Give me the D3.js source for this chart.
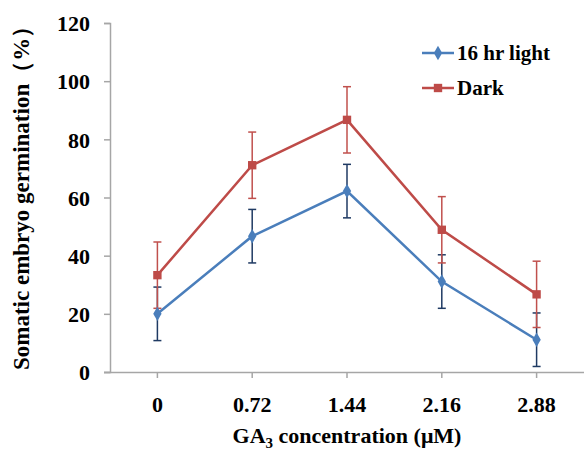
<!DOCTYPE html>
<html>
<head>
<meta charset="utf-8">
<script src="https://cdn.jsdelivr.net/npm/d3@7"></script>
<style>
  body { margin: 0; background: #fff; }
  svg { display: block; }
</style>
</head>
<body>
<svg id="chart" width="585" height="452"></svg>
<script>
var categories = ["0", "0.72", "1.44", "2.16", "2.88"];
var lightValues = [20, 46.7, 62.2, 31.1, 11.1];
var lightErrors = [9.2, 9.2, 9.2, 9.2, 9.2];
var darkValues = [33.3, 71.1, 86.7, 48.9, 26.7];
var darkErrors = [11.4, 11.4, 11.4, 11.4, 11.4];
var yTicks = [0, 20, 40, 60, 80, 100, 120];

var svg = d3.select("#chart");
var margin = {top: 23, right: 1, bottom: 80, left: 110};
var width = 585 - margin.left - margin.right;
var height = 452 - margin.top - margin.bottom;

var g = svg.append("g")
    .attr("transform", "translate(" + margin.left + "," + margin.top + ")");

var x = d3.scaleBand()
    .domain(categories)
    .range([0, width]);

var y = d3.scaleLinear()
    .domain([0, 120])
    .range([height, 0]);

var cx = function(c) { return x(c) + x.bandwidth() / 2; };

function styleText(sel, size) {
    sel.attr("font-family", null)
        .style("font-family", "'Liberation Serif'")
        .style("font-weight", "bold")
        .style("font-size", size + "px")
        .attr("fill", "#000");
}

// y axis
var yAxis = g.append("g")
    .call(d3.axisLeft(y).tickValues(yTicks).tickSize(6).tickPadding(14));
yAxis.attr("font-family", null);
yAxis.select(".domain").attr("stroke", "#a6a6a6").attr("stroke-width", 1.5);
yAxis.selectAll(".tick line").attr("stroke", "#a6a6a6").attr("stroke-width", 1.5);
yAxis.selectAll(".tick text").call(styleText, 22).attr("dy", "0.35em");

// x axis
var xAxis = g.append("g")
    .attr("transform", "translate(0," + height + ")")
    .call(d3.axisBottom(x).tickSize(6).tickSizeOuter(0).tickPadding(14));
xAxis.attr("font-family", null);
xAxis.select(".domain").attr("stroke", "#a6a6a6").attr("stroke-width", 1.5)
    .attr("d", "M-6,0.5H" + width);
xAxis.selectAll(".tick line").attr("stroke", "#a6a6a6").attr("stroke-width", 1.5);
xAxis.selectAll(".tick text").call(styleText, 22).attr("dy", "0.9em");

var series = [
    {name: "16 hr light", values: lightValues, errors: lightErrors, color: "#4a7ebb", errColor: "#1f3a63", marker: d3.symbolDiamond, size: 60},
    {name: "Dark", values: darkValues, errors: darkErrors, color: "#be4b48", errColor: "#c0504d", marker: d3.symbolSquare, size: 70}
];

var line = d3.line()
    .x(function(d, i) { return cx(categories[i]); })
    .y(function(d) { return y(d); });

series.forEach(function(s) {
    var eg = g.append("g");
    s.values.forEach(function(v, i) {
        var xc = cx(categories[i]);
        var top = y(v + s.errors[i]), bot = y(v - s.errors[i]);
        eg.append("line").attr("x1", xc).attr("x2", xc).attr("y1", top).attr("y2", bot)
            .attr("stroke", s.errColor).attr("stroke-width", 1.5);
        [top, bot].forEach(function(yy) {
            eg.append("line").attr("x1", xc - 4).attr("x2", xc + 4).attr("y1", yy).attr("y2", yy)
                .attr("stroke", s.errColor).attr("stroke-width", 1.5);
        });
    });
});

series.forEach(function(s) {
    g.append("path")
        .datum(s.values)
        .attr("fill", "none")
        .attr("stroke", s.color)
        .attr("stroke-width", 2.5)
        .attr("d", line);
    g.selectAll(null)
        .data(s.values)
        .enter().append("path")
        .attr("transform", function(d, i) { return "translate(" + cx(categories[i]) + "," + y(d) + ")"; })
        .attr("d", d3.symbol().type(s.marker).size(s.size))
        .attr("fill", s.color);
});

// legend
var legend = svg.append("g");
series.forEach(function(s, i) {
    var ly = 53 + i * 35;
    legend.append("line").attr("x1", 422).attr("x2", 454).attr("y1", ly).attr("y2", ly)
        .attr("stroke", s.color).attr("stroke-width", 2.5);
    legend.append("path")
        .attr("transform", "translate(438," + ly + ")")
        .attr("d", d3.symbol().type(s.marker).size(s.size))
        .attr("fill", s.color);
    legend.append("text").attr("x", 457).attr("y", ly).attr("dy", "0.35em")
        .call(styleText, 21).text(s.name);
});

// axis titles
svg.append("text")
    .attr("transform", "translate(29,370) rotate(-90)")
    .attr("text-anchor", "start")
    .call(styleText, 23)
    .text("Somatic embryo germination（%）");

var xt = svg.append("text")
    .attr("x", 347).attr("y", 443)
    .attr("text-anchor", "middle")
    .call(styleText, 22);
xt.append("tspan").text("GA");
xt.append("tspan").attr("dy", 5).style("font-size", "15px").text("3");
xt.append("tspan").attr("dy", -5).text(" concentration (μM)");
</script>
</body>
</html>
